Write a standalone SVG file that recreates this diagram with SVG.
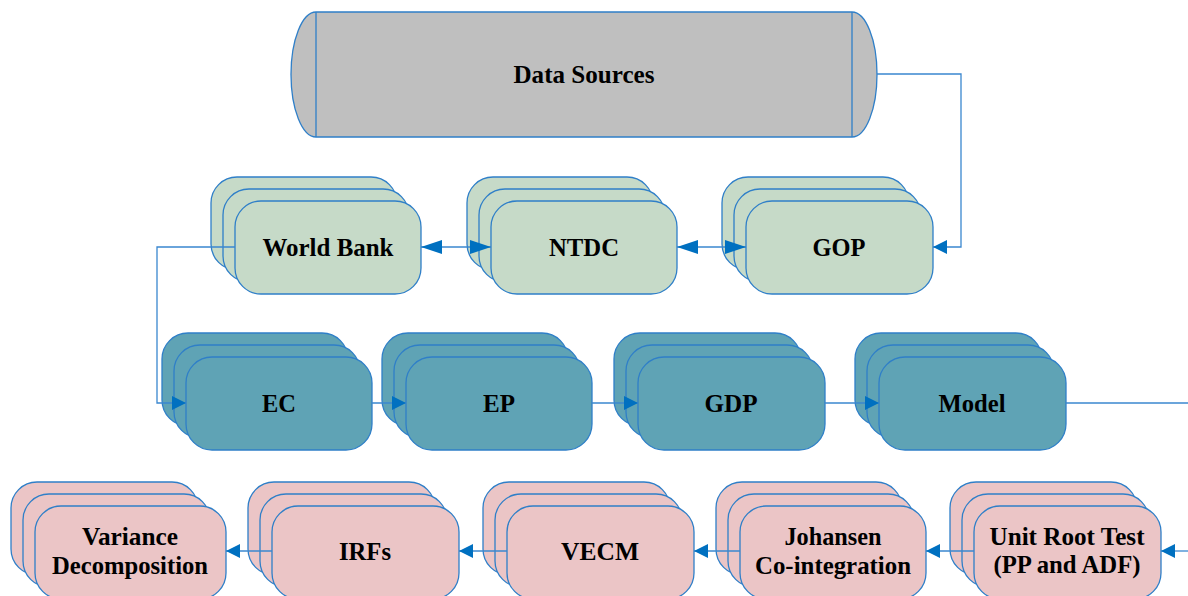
<svg xmlns="http://www.w3.org/2000/svg" width="1188" height="596" viewBox="0 0 1188 596">
<style>
.lbl{font-family:"Liberation Serif","Times New Roman",serif;font-weight:bold;font-size:26px;fill:#000;text-anchor:middle}
.box{stroke:#2F7FC8;stroke-width:1.3}
.g{fill:#C6DAC8}
.t{fill:#5FA3B5}
.p{fill:#EBC5C6}
.con{fill:none;stroke:#3A87CF;stroke-width:1.3}
</style>
<defs>
<marker id="ah" viewBox="0 0 14 14" refX="14" refY="7" markerWidth="14" markerHeight="14" markerUnits="userSpaceOnUse" orient="auto-start-reverse">
<path d="M0,0 L14,7 L0,14 Z" fill="#0070C0"/>
</marker>
<marker id="ahl" viewBox="0 0 21 14" refX="21" refY="7" markerWidth="21" markerHeight="14" markerUnits="userSpaceOnUse" orient="auto-start-reverse">
<path d="M0,0 L21,7 L0,14 Z" fill="#0070C0"/>
</marker>
</defs>
<rect width="1188" height="596" fill="#fff"/>
<g id="data-sources">
<path d="M316,12 L852,12 A25,62.5 0 0 1 852,137 L316,137 A25,62.5 0 0 1 316,12 Z" fill="#BFBFBF" class="box"/>
<line x1="316" y1="12" x2="316" y2="137" class="box"/>
<line x1="852" y1="12" x2="852" y2="137" class="box"/>
<text x="584" y="83" class="lbl" textLength="141" lengthAdjust="spacingAndGlyphs">Data Sources</text>
</g>
<g id="world-bank" class="g">
<rect x="211" y="177" width="186" height="93" rx="26" class="box"/>
<rect x="223" y="189" width="186" height="93" rx="26" class="box"/>
<rect x="235" y="201" width="186" height="93" rx="26" class="box"/>
<text x="328" y="256" class="lbl" textLength="131" lengthAdjust="spacingAndGlyphs">World Bank</text>
</g>
<g id="ntdc" class="g">
<rect x="467" y="177" width="186" height="93" rx="26" class="box"/>
<rect x="479" y="189" width="186" height="93" rx="26" class="box"/>
<rect x="491" y="201" width="186" height="93" rx="26" class="box"/>
<text x="584" y="256" class="lbl" textLength="70" lengthAdjust="spacingAndGlyphs">NTDC</text>
</g>
<g id="gop" class="g">
<rect x="722" y="177" width="187" height="93" rx="26" class="box"/>
<rect x="734" y="189" width="187" height="93" rx="26" class="box"/>
<rect x="746" y="201" width="187" height="93" rx="26" class="box"/>
<text x="839" y="256" class="lbl" textLength="53" lengthAdjust="spacingAndGlyphs">GOP</text>
</g>
<g id="ec" class="t">
<rect x="162" y="333" width="186" height="93" rx="26" class="box"/>
<rect x="174" y="345" width="186" height="93" rx="26" class="box"/>
<rect x="186" y="357" width="186" height="93" rx="26" class="box"/>
<text x="279" y="412" class="lbl" textLength="34" lengthAdjust="spacingAndGlyphs">EC</text>
</g>
<g id="ep" class="t">
<rect x="382" y="333" width="186" height="93" rx="26" class="box"/>
<rect x="394" y="345" width="186" height="93" rx="26" class="box"/>
<rect x="406" y="357" width="186" height="93" rx="26" class="box"/>
<text x="499" y="412" class="lbl" textLength="32" lengthAdjust="spacingAndGlyphs">EP</text>
</g>
<g id="gdp" class="t">
<rect x="614" y="333" width="187" height="93" rx="26" class="box"/>
<rect x="626" y="345" width="187" height="93" rx="26" class="box"/>
<rect x="638" y="357" width="187" height="93" rx="26" class="box"/>
<text x="731" y="412" class="lbl" textLength="53" lengthAdjust="spacingAndGlyphs">GDP</text>
</g>
<g id="model" class="t">
<rect x="855" y="333" width="187" height="93" rx="26" class="box"/>
<rect x="867" y="345" width="187" height="93" rx="26" class="box"/>
<rect x="879" y="357" width="187" height="93" rx="26" class="box"/>
<text x="972" y="412" class="lbl" textLength="67" lengthAdjust="spacingAndGlyphs">Model</text>
</g>
<g id="variance-decomposition" class="p">
<rect x="11" y="482" width="187" height="93" rx="26" class="box"/>
<rect x="23" y="494" width="187" height="93" rx="26" class="box"/>
<rect x="35" y="506" width="191" height="93" rx="26" class="box"/>
<text x="130" y="545" class="lbl" textLength="96" lengthAdjust="spacingAndGlyphs">Variance</text>
<text x="130" y="574" class="lbl" textLength="156" lengthAdjust="spacingAndGlyphs">Decomposition</text>
</g>
<g id="irfs" class="p">
<rect x="248" y="482" width="187" height="93" rx="26" class="box"/>
<rect x="260" y="494" width="187" height="93" rx="26" class="box"/>
<rect x="272" y="506" width="187" height="93" rx="26" class="box"/>
<text x="365" y="560" class="lbl" textLength="52" lengthAdjust="spacingAndGlyphs">IRFs</text>
</g>
<g id="vecm" class="p">
<rect x="483" y="482" width="187" height="93" rx="26" class="box"/>
<rect x="495" y="494" width="187" height="93" rx="26" class="box"/>
<rect x="507" y="506" width="187" height="93" rx="26" class="box"/>
<text x="600" y="560" class="lbl" textLength="78" lengthAdjust="spacingAndGlyphs">VECM</text>
</g>
<g id="johansen" class="p">
<rect x="716" y="482" width="186" height="93" rx="26" class="box"/>
<rect x="728" y="494" width="186" height="93" rx="26" class="box"/>
<rect x="740" y="506" width="186" height="93" rx="26" class="box"/>
<text x="833" y="545" class="lbl" textLength="97" lengthAdjust="spacingAndGlyphs">Johansen</text>
<text x="833" y="574" class="lbl" textLength="156" lengthAdjust="spacingAndGlyphs">Co-integration</text>
</g>
<g id="unit-root" class="p">
<rect x="950" y="482" width="187" height="93" rx="26" class="box"/>
<rect x="962" y="494" width="187" height="93" rx="26" class="box"/>
<rect x="974" y="506" width="187" height="93" rx="26" class="box"/>
<text x="1067" y="545" class="lbl" textLength="155" lengthAdjust="spacingAndGlyphs">Unit Root Test</text>
<text x="1067" y="573" class="lbl" textLength="147" lengthAdjust="spacingAndGlyphs">(PP and ADF)</text>
</g>
<g id="connectors">
<path d="M877,74 H961 V247 H933" class="con" marker-end="url(#ah)"/>
<path d="M421,247 H491" class="con" marker-start="url(#ahl)" marker-end="url(#ahl)"/>
<path d="M677,247 H746" class="con" marker-start="url(#ahl)" marker-end="url(#ahl)"/>
<path d="M235,247 H157 V403 H186" class="con" marker-end="url(#ah)"/>
<path d="M372,403 H406" class="con" marker-end="url(#ah)"/>
<path d="M592,403 H638" class="con" marker-end="url(#ah)"/>
<path d="M825,403 H879" class="con" marker-end="url(#ah)"/>
<path d="M1066,403 H1188" class="con"/>
<path d="M1188,551 H1161" class="con" marker-end="url(#ah)"/>
<path d="M974,551 H926" class="con" marker-end="url(#ah)"/>
<path d="M740,551 H694" class="con" marker-end="url(#ah)"/>
<path d="M507,551 H459" class="con" marker-end="url(#ah)"/>
<path d="M272,551 H226" class="con" marker-end="url(#ah)"/>
</g>
</svg>
